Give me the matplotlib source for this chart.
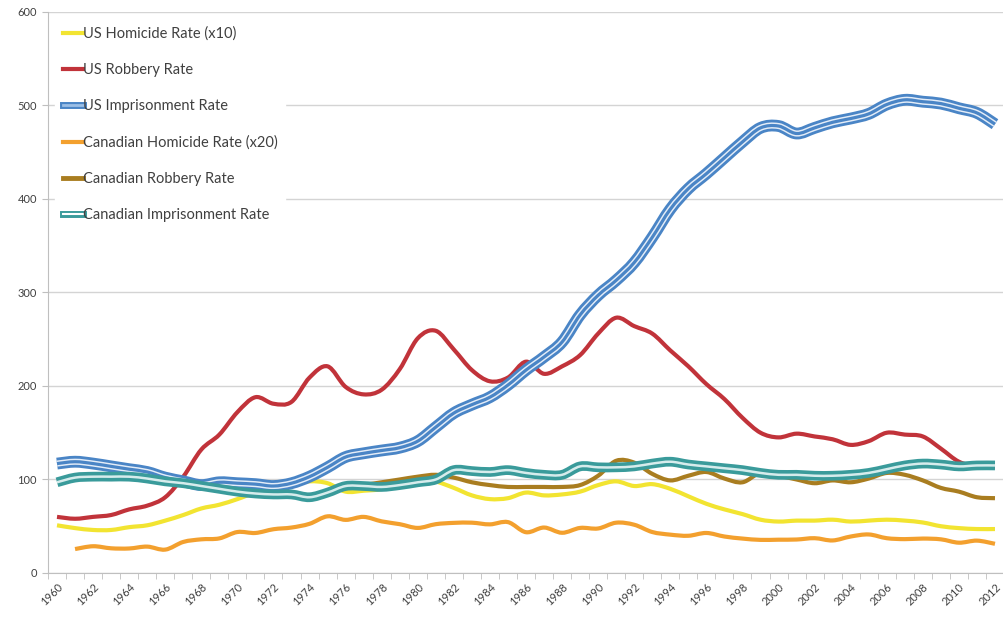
import matplotlib
matplotlib.use("Agg")
import matplotlib.pyplot as plt
from matplotlib.lines import Line2D
from matplotlib.legend_handler import HandlerTuple
from matplotlib.path import Path
from matplotlib.patches import PathPatch

plt.rcParams["font.family"] = ["Lato", "DejaVu Sans"]

years = list(range(1960, 2013))

us_homicide_x10 = [51, 48, 46, 46, 49, 51, 56, 62, 69, 73, 79, 86, 90, 94, 98, 96, 87, 88, 90, 98,
                   102, 98, 91, 83, 79, 80, 86, 83, 84, 87, 94, 98, 93, 95, 90, 82, 74, 68, 63, 57,
                   55, 56, 56, 57, 55, 56, 57, 56, 54, 50, 48, 47, 47]

us_robbery = [60, 58, 60, 62, 68, 72, 81, 103, 132, 148, 172, 188, 181, 183, 209, 221, 199, 191, 196, 218,
              251, 259, 239, 217, 205, 209, 226, 213, 221, 233, 256, 273, 264, 256, 238, 221, 202, 186, 166, 150,
              145, 149, 146, 143, 137, 141, 150, 148, 146, 133, 119, 114, 113]

us_prison = [117, 119, 117, 114, 111, 108, 102, 98, 94, 97, 96, 95, 93, 96, 103, 113, 124, 128, 131, 134,
             141, 156, 171, 180, 188, 201, 217, 231, 247, 276, 297, 313, 332, 359, 389, 411, 427, 444, 461, 476,
             478, 470, 476, 482, 486, 491, 501, 506, 504, 502, 497, 492, 480]

can_homicide_years = list(range(1961, 2013))
can_homicide_x20 = [25.6, 28.6, 26.4, 26.2, 28.2, 25.0, 33.2, 36.0, 37.0, 43.8, 42.8, 46.8, 48.6, 52.6, 60.6,
                    56.8, 60.0, 55.2, 52.2, 48.2, 52.2, 53.6, 53.8, 52.0, 54.4, 43.6, 48.6, 43.0, 48.2, 47.6,
                    53.8, 51.6, 43.8, 41.0, 39.8, 42.8, 39.0, 36.8, 35.4, 35.6, 35.8, 37.2, 34.8, 39.0, 41.2,
                    37.2, 36.2, 36.8, 36.0, 32.4, 34.6, 31.2]

can_robbery_years = list(range(1977, 2013))
can_robbery = [94, 97, 100, 103, 105, 102, 97, 94, 92, 92, 92, 92, 94, 104, 120, 118, 106, 99, 104, 108,
               101, 97, 107, 104, 100, 96, 99, 97, 101, 107, 105, 99, 91, 87, 81, 80]

can_prison = [97, 102, 103, 103, 103, 101, 98, 96, 93, 90, 87, 85, 84, 84, 81, 86, 93, 93, 92, 94,
              97, 100, 110, 109, 108, 110, 107, 105, 105, 114, 113, 113, 114, 117, 119, 116, 114, 112, 110, 107,
              105, 105, 104, 104, 105, 107, 111, 115, 117, 116, 114, 115, 115]

labels = ["US Homicide Rate (x10)", "US Robbery Rate", "US Imprisonment Rate",
          "Canadian Homicide Rate (x20)", "Canadian Robbery Rate", "Canadian Imprisonment Rate"]

YELLOW = "#f2e431"
RED = "#c1333a"
BLUE = "#4a85c6"
BLUE_LIGHT = "#e4edf8"
ORANGE = "#f3a02e"
BROWN = "#a97d20"
TEAL = "#3a9b9b"
TEAL_LIGHT = "#d6ecec"


def smooth_line(ax, x, y, **kw):
    # Excel-style smoothed line: Catmull-Rom segments drawn as cubic Beziers
    pts = list(zip(x, y))
    n = len(pts)
    verts = [pts[0]]
    codes = [Path.MOVETO]
    for i in range(n - 1):
        p0 = pts[max(i - 1, 0)]
        p1 = pts[i]
        p2 = pts[i + 1]
        p3 = pts[min(i + 2, n - 1)]
        c1 = (p1[0] + (p2[0] - p0[0]) / 6, p1[1] + (p2[1] - p0[1]) / 6)
        c2 = (p2[0] - (p3[0] - p1[0]) / 6, p2[1] - (p3[1] - p1[1]) / 6)
        verts += [c1, c2, p2]
        codes += [Path.CURVE4] * 3
    patch = PathPatch(Path(verts, codes), fill=False, capstyle="butt", joinstyle="round", **kw)
    ax.add_patch(patch)
    return patch


fig = plt.figure(figsize=(10.04, 6.22), dpi=100)
ax = fig.add_axes([0.0478, 0.0788, 0.9522, 0.902])

smooth_line(ax, years, us_homicide_x10, edgecolor=YELLOW, lw=3)
smooth_line(ax, years, us_robbery, edgecolor=RED, lw=3)
smooth_line(ax, years, us_prison, edgecolor=BLUE, lw=8.5)
smooth_line(ax, years, us_prison, edgecolor=BLUE_LIGHT, lw=4.4)
smooth_line(ax, years, us_prison, edgecolor=BLUE, lw=2.3)
smooth_line(ax, can_homicide_years, can_homicide_x20, edgecolor=ORANGE, lw=3)
smooth_line(ax, can_robbery_years, can_robbery, edgecolor=BROWN, lw=3)
smooth_line(ax, years, can_prison, edgecolor=TEAL, lw=7)
smooth_line(ax, years, can_prison, edgecolor=TEAL_LIGHT, lw=1.8)

ax.set_ylim(0, 600)
ax.set_xlim(1959.5, 2012.03)
ax.set_yticks(range(0, 601, 100))
ax.yaxis.grid(True, color="#d4d4d4", lw=1)
ax.set_axisbelow(True)

ax.set_xticks(range(1960, 2013, 2))
ax.set_xticklabels([str(y) for y in range(1960, 2013, 2)], rotation=45, ha="right",
                   rotation_mode="anchor", fontsize=8, color="#404040")
ax.set_xticks([y + 0.5 for y in range(1959, 2013)], minor=True)
ax.tick_params(axis="x", which="major", length=0, pad=6)
ax.tick_params(axis="x", which="minor", length=4, color="#bfbfbf", direction="out")
ax.tick_params(axis="y", length=4, color="#bfbfbf", labelsize=8, labelcolor="#404040", pad=4)

for side in ["top", "right"]:
    ax.spines[side].set_visible(False)
for side in ["left", "bottom"]:
    ax.spines[side].set_color("#bfbfbf")

handles = [
    Line2D([], [], color=YELLOW, lw=3),
    Line2D([], [], color=RED, lw=3),
    (Line2D([], [], color=BLUE, lw=5), Line2D([], [], color="#9bbfe6", lw=2)),
    Line2D([], [], color=ORANGE, lw=3),
    Line2D([], [], color=BROWN, lw=3.5),
    (Line2D([], [], color=TEAL, lw=5), Line2D([], [], color="white", lw=1.5)),
]
leg = ax.legend(handles, labels, loc="upper left", bbox_to_anchor=(0.0, 1.0),
                handler_map={tuple: HandlerTuple(ndivide=1)},
                fontsize=10.5, handlelength=1.4, handletextpad=0.0, labelspacing=1.52,
                frameon=True, facecolor="white", edgecolor="white", framealpha=1.0,
                borderpad=0.5)
for t in leg.get_texts():
    t.set_color("#404040")

fig.savefig("out.png", dpi=100)
